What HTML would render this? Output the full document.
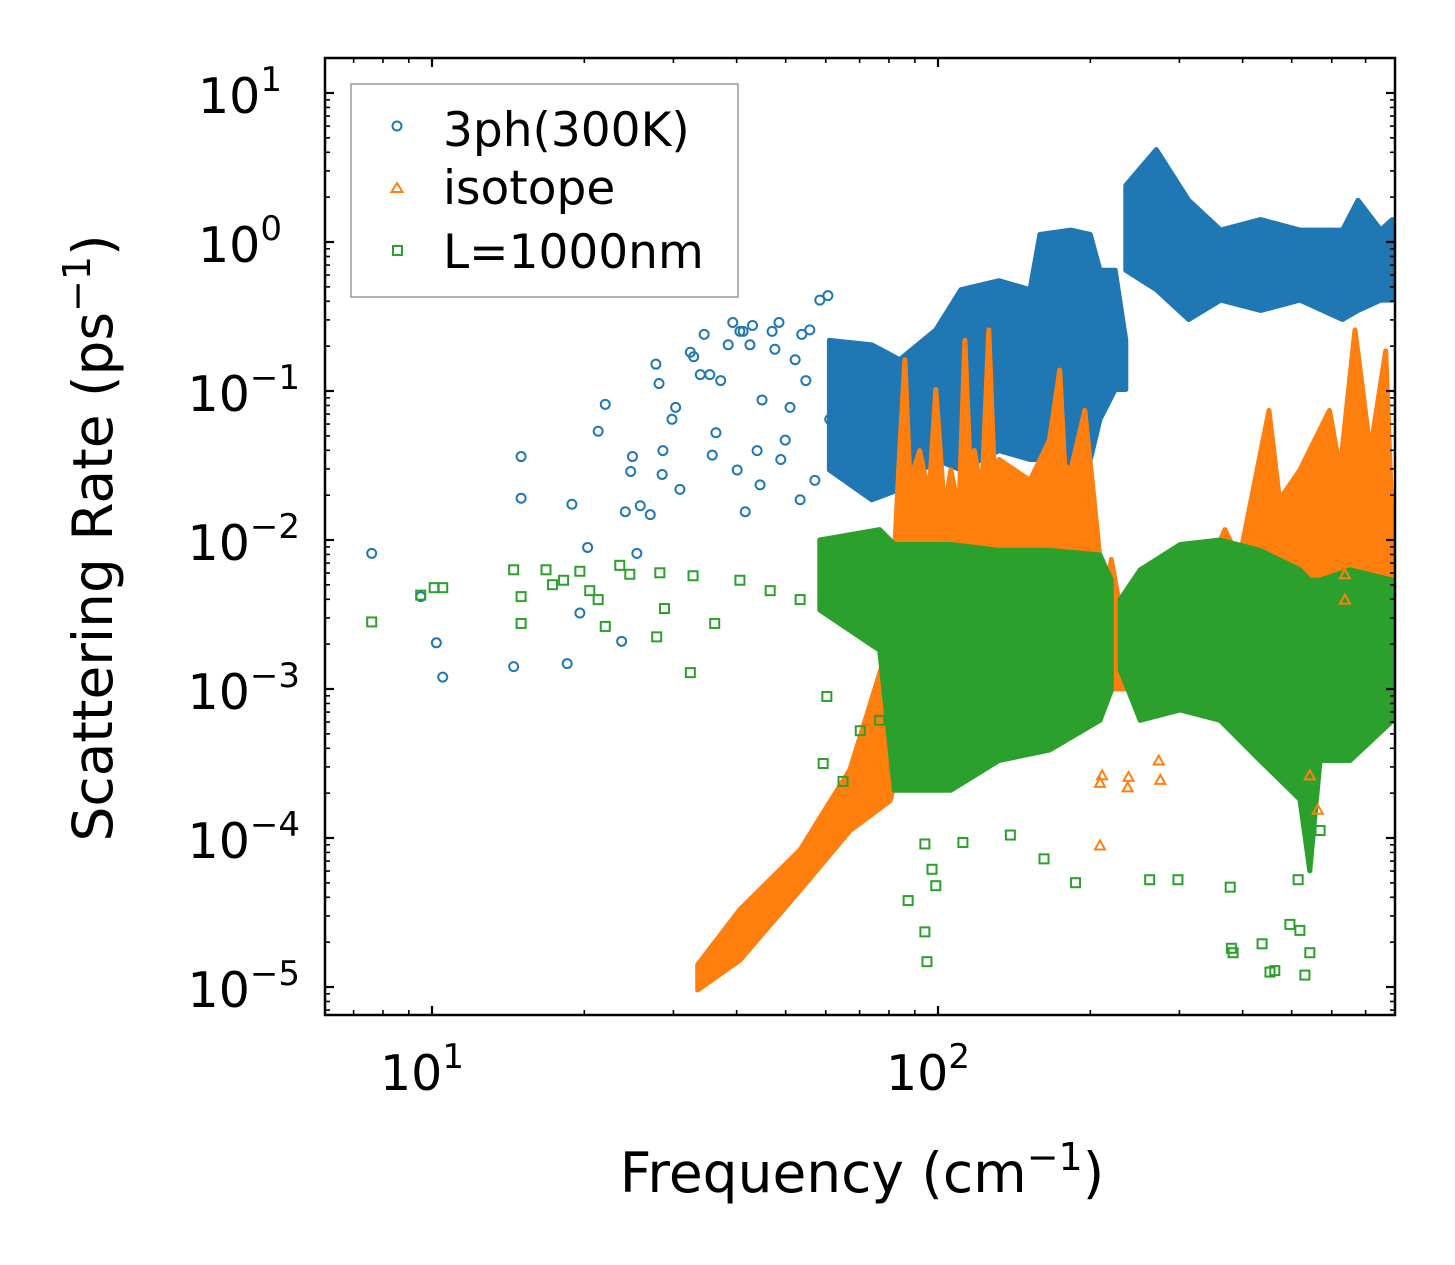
<!DOCTYPE html>
<html><head><meta charset="utf-8"><style>
html,body{margin:0;padding:0;background:#fff;}
svg{display:block;font-family:"DejaVu Sans","Liberation Sans",sans-serif;}
</style></head><body>
<svg id="chart" width="1455" height="1265" viewBox="0 0 1455 1265" xmlns="http://www.w3.org/2000/svg">
<rect width="1455" height="1265" fill="#fff"/>
<g id="dense"></g>
<g id="pts"></g>
<g id="axes"></g>
<g id="legend">
<rect x="351" y="84" width="387" height="213" fill="#fff" stroke="#999" stroke-width="1.5"/>
<circle cx="397" cy="126" r="4.5" fill="none" stroke="#1f77b4" stroke-width="2"/>
<text x="443" y="146" font-size="47">3ph(300K)</text>
<polygon points="397,183 402.5,192 391.5,192" fill="none" stroke="#ff7f0e" stroke-width="2"/>
<text x="443" y="204" font-size="47">isotope</text>
<rect x="393" y="246" width="9" height="9" fill="none" stroke="#2ca02c" stroke-width="2"/>
<text x="443" y="268" font-size="47">L=1000nm</text>
</g>
<text x="862" y="1192" font-size="55" text-anchor="middle">Frequency (cm<tspan dy="-22" font-size="38">−1</tspan><tspan dy="22">)</tspan></text>
<text transform="translate(112,538) rotate(-90)" font-size="55" text-anchor="middle">Scattering Rate (ps<tspan dy="-22" font-size="38">−1</tspan><tspan dy="22">)</tspan></text>
</svg>
<script>
// ---- data (frequency in cm^-1, rates given as log10 of ps^-1) ----
const blueFreq = [7.6,9.5,10.2,10.5,14.5,15.0,15.0,18.5,18.9,19.6,20.3,21.3,22.0,23.7,24.1,24.7,24.9,25.4,25.8,27.0,27.7,28.1,28.6,28.5,29.8,30.3,30.9,32.4,32.9,33.9,34.5,35.4,35.8,36.4,37.2,38.5,39.3,40.1,40.6,41.2,41.6,42.5,43.0,43.9,44.5,44.9,47.0,47.6,48.5,48.9,49.9,51.0,52.2,53.4,53.8,54.8,55.8,57.1,58.4,60.6,61.1,63.9,64.9,67.6,70.2];
const blueLogRate = [-2.09,-2.38,-2.69,-2.92,-2.85,-1.44,-1.72,-2.83,-1.76,-2.49,-2.05,-1.27,-1.09,-2.68,-1.81,-1.54,-1.44,-2.09,-1.77,-1.83,-0.82,-0.95,-1.40,-1.56,-1.19,-1.11,-1.66,-0.74,-0.77,-0.89,-0.62,-0.89,-1.43,-1.28,-0.93,-0.69,-0.54,-1.53,-0.60,-0.60,-1.81,-0.69,-0.56,-1.40,-1.63,-1.06,-0.60,-0.72,-0.54,-1.46,-1.33,-1.11,-0.79,-1.73,-0.62,-0.93,-0.59,-1.60,-0.39,-0.36,-1.19,-0.76,-1.53,-0.93,-1.06];
const greenFreq = [7.6,9.5,10.1,10.5,14.5,15.0,15.0,16.8,17.3,18.2,19.6,20.5,21.3,22.0,23.5,24.6,27.8,28.2,28.8,32.4,32.8,36.2,40.6,46.6,53.4,59.3,60.3,64.9,70.2,76.7,87.3,94.2,94.2,95.1,97.3,99,112,139,162,187,262,298,378,380,383,437,453,463,496,519,531,543,515,569];
const greenLogRate = [-2.55,-2.37,-2.32,-2.32,-2.20,-2.38,-2.56,-2.20,-2.30,-2.27,-2.21,-2.34,-2.40,-2.58,-2.17,-2.23,-2.65,-2.22,-2.46,-2.89,-2.24,-2.56,-2.27,-2.34,-2.40,-3.50,-3.05,-3.62,-3.28,-3.21,-4.42,-4.04,-4.63,-4.83,-4.21,-4.32,-4.03,-3.98,-4.14,-4.30,-4.28,-4.28,-4.33,-4.74,-4.77,-4.71,-4.90,-4.89,-4.58,-4.62,-4.92,-4.77,-4.28,-3.95];
const orangeFreq = [209,209,211,237,238,275,273,543,563,637,637];
const orangeLogRate = [-4.05,-3.63,-3.58,-3.66,-3.59,-3.61,-3.48,-3.58,-3.81,-2.23,-2.40];
// dense regions: envelopes [low, high] of log10 rate vs frequency
const blueBand1Freq = [61,74,84,99,111,132,152,159,183,200,209,224,235];
const blueBand1Lo = [-1.53,-1.73,-1.66,-1.46,-1.53,-1.40,-1.46,-1.46,-1.53,-1.46,-1.19,-0.99,-0.99];
const blueBand1Hi = [-0.66,-0.69,-0.79,-0.59,-0.32,-0.26,-0.32,0.05,0.08,0.05,-0.19,-0.19,-0.66];
const blueBand2Freq = [235,270,313,362,434,519,630,676,750,790];
const blueBand2Lo = [-0.19,-0.32,-0.52,-0.39,-0.46,-0.39,-0.52,-0.46,-0.39,-0.39];
const blueBand2Hi = [0.38,0.62,0.28,0.08,0.15,0.08,0.08,0.28,0.08,0.15];
const orangeBand0Freq = [33.5,40.6,53.4,67,80.4,84];
const orangeBand0Lo = [-5.02,-4.82,-4.35,-3.95,-3.75,-3.5];
const orangeBand0Hi = [-4.85,-4.48,-4.08,-3.54,-2.67,-1.40];
const orangeBand1Freq = [84,86,88,92,96,99,103,106,110,113,116,118,122,126,129,132,152,166,174,178,183,195,203,209,214,220,235];
const orangeBand1Hi = [-1.40,-0.79,-1.6,-1.40,-1.7,-0.99,-1.8,-1.53,-1.8,-0.66,-1.6,-1.40,-1.7,-0.59,-1.5,-1.46,-1.60,-1.33,-0.86,-1.5,-1.53,-1.13,-1.7,-2.13,-2.40,-2.13,-2.67];
const orangeBand1Lo = [-3.5,-3.5,-3.4,-3.4,-3.3,-3.3,-3.3,-3.2,-3.2,-3.2,-3.2,-3.2,-3.2,-3.1,-3.1,-3.1,-3.1,-3.0,-3.0,-3.0,-3.0,-3.0,-3.0,-3.0,-3.0,-3.0,-3.0];
const orangeBand2Freq = [235,270,328,369,394,451,473,519,594,623,667,715,767,795];
const orangeBand2Hi = [-2.67,-2.67,-2.33,-1.93,-2.13,-1.13,-1.73,-1.53,-1.13,-1.53,-0.59,-1.40,-0.73,-2.13];
const orangeBand2Lo = [-2.8,-2.8,-2.8,-2.8,-2.8,-2.8,-2.8,-2.8,-2.8,-2.8,-2.8,-2.8,-2.8,-2.8];
const greenBand1Freq = [58.4,76.7,82,106,132,166,209,220];
const greenBand1Lo = [-2.47,-2.74,-3.68,-3.68,-3.48,-3.41,-3.21,-3.01];
const greenBand1Hi = [-2.0,-1.93,-2.03,-2.03,-2.07,-2.07,-2.10,-2.27];
const greenBand2Freq = [229,251,301,361,433,519,543,569,652,793];
const greenBand2Lo = [-2.87,-3.21,-3.14,-3.21,-3.48,-3.74,-4.22,-3.48,-3.48,-3.21];
const greenBand2Hi = [-2.40,-2.20,-2.03,-2.0,-2.07,-2.20,-2.27,-2.27,-2.20,-2.27];
const xTickVals = [1,2];
const yTickVals = [1,0,-1,-2,-3,-4,-5];

// ---- axes mapping ----
const X0=325,X1=1395,Y0=58,Y1=1015;
const X10=432,XDEC=506,Y10=93,YDEC=149;
function xs(f){return X10+(Math.log10(f)-1)*XDEC;}
function ys(e){return Y10+(1-e)*YDEC;}
const NS='http://www.w3.org/2000/svg';
function mk(tag,attrs,parent){const el=document.createElementNS(NS,tag);for(const k in attrs)el.setAttribute(k,attrs[k]);parent.appendChild(el);return el;}

const dense=document.getElementById('dense');
function band(fr,lo,hi,color,name){
  const pts=[];
  for(let i=0;i<fr.length;i++)pts.push(xs(fr[i]).toFixed(1)+','+ys(hi[i]).toFixed(1));
  for(let i=fr.length-1;i>=0;i--)pts.push(xs(fr[i]).toFixed(1)+','+ys(lo[i]).toFixed(1));
  const p=mk('polygon',{points:pts.join(' '),fill:color,stroke:color,'stroke-width':5,'stroke-linejoin':'round'},dense);
  
  
}
band(blueBand1Freq,blueBand1Lo,blueBand1Hi,'#1f77b4','blue-cloud-low');
band(blueBand2Freq,blueBand2Lo,blueBand2Hi,'#1f77b4','blue-cloud-high');
band(orangeBand0Freq,orangeBand0Lo,orangeBand0Hi,'#ff7f0e','orange-band-rising');
band(orangeBand1Freq,orangeBand1Lo,orangeBand1Hi,'#ff7f0e','orange-cloud-mid');
band(orangeBand2Freq,orangeBand2Lo,orangeBand2Hi,'#ff7f0e','orange-cloud-high');
band(greenBand1Freq,greenBand1Lo,greenBand1Hi,'#2ca02c','green-cloud-mid');
band(greenBand2Freq,greenBand2Lo,greenBand2Hi,'#2ca02c','green-cloud-high');

const pts=document.getElementById('pts');
for(let i=0;i<blueFreq.length;i++){
  const c=mk('circle',{cx:xs(blueFreq[i]),cy:ys(blueLogRate[i]),r:4.5,fill:'none',stroke:'#1f77b4','stroke-width':2},pts);
  
  
}
for(let i=0;i<orangeFreq.length;i++){
  const x=xs(orangeFreq[i]),y=ys(orangeLogRate[i]);
  const t=mk('polygon',{points:`${x},${y-5} ${x+5},${y+4} ${x-5},${y+4}`,fill:'none',stroke:'#ff7f0e','stroke-width':2},pts);
  
  
}
for(let i=0;i<greenFreq.length;i++){
  const r=mk('rect',{x:xs(greenFreq[i])-4.5,y:ys(greenLogRate[i])-4.5,width:9,height:9,fill:'none',stroke:'#2ca02c','stroke-width':2},pts);
  
  
}

// ---- axes ----
const ax=document.getElementById('axes');
const frame=mk('rect',{x:X0,y:Y0,width:X1-X0,height:Y1-Y0,fill:'none',stroke:'#000','stroke-width':2.5},ax);


function tick(x1,y1,x2,y2,w){mk('line',{x1,y1,x2,y2,stroke:'#000','stroke-width':w},ax);}
for(let d=0;d<=2;d++){
  for(let m=1;m<=9;m++){
    const f=m*Math.pow(10,d);const x=xs(f);
    if(x<X0||x>X1)continue;
    const L=m===1?9:5;const w=m===1?2.2:1.6;
    tick(x,Y1,x,Y1-L,w);tick(x,Y0,x,Y0+L,w);
  }
}
for(let d=-6;d<=1;d++){
  for(let m=1;m<=9;m++){
    const e=d+Math.log10(m);const y=ys(e);
    if(y<Y0||y>Y1)continue;
    const L=m===1?9:5;const w=m===1?2.2:1.6;
    tick(X0,y,X0+L,y,w);tick(X1,y,X1-L,y,w);
  }
}
xTickVals.forEach(p=>{
  const t=mk('text',{x:xs(Math.pow(10,p))-10,y:1090,'font-size':49,'text-anchor':'middle'},ax);
  
  
  t.textContent='10';
  const s=mk('tspan',{dy:-22,'font-size':34},t);s.textContent=String(p);
});
yTickVals.forEach(p=>{
  const t=mk('text',{x:p<0?300:282,y:ys(p)+20,'font-size':49,'text-anchor':'end'},ax);
  
  
  t.textContent='10';
  const s=mk('tspan',{dy:-22,'font-size':34},t);s.textContent=p<0?'−'+(-p):String(p);
});
</script>
</body></html>
